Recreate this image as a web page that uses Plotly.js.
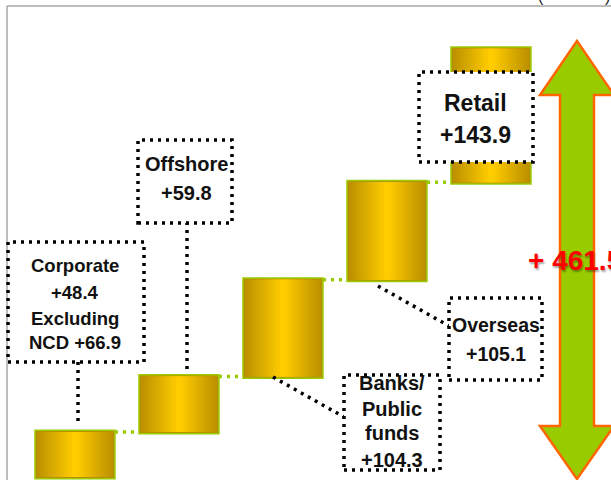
<!DOCTYPE html>
<html>
<head>
<meta charset="utf-8">
<script src="https://cdn.plot.ly/plotly-3.0.1.min.js"></script>
<style>
html,body{margin:0;padding:0;background:#fff;overflow:hidden;}
#chart{width:611px;height:480px;}
</style>
</head>
<body>
<div id="chart"></div>
<script>
// ---- data ----
const categories = ['Corporate', 'Offshore', 'Banks/Public funds', 'Overseas', 'Retail'];
const increments = [48.4, 59.8, 104.3, 105.1, 143.9];
const totalIncrease = 461.5;
const corporateExNCD = 66.9;
const boxLines = {
  corporate: ['Corporate', '+' + increments[0], 'Excluding', 'NCD +' + corporateExNCD],
  offshore: ['Offshore', '+' + increments[1]],
  banks: ['Banks/', 'Public', 'funds', '+' + increments[2]],
  overseas: ['Overseas', '+' + increments[3]],
  retail: ['Retail', '+' + increments[4]]
};

// ---- helpers (page pixel -> paper coords) ----
const W = 611, H = 480;
const px = x => x / W;
const py = y => 1 - y / H;
const FONT = '"Liberation Sans", Arial, sans-serif';

// gradient by nested overlay waterfall traces
const N = 12;
const barWidth = 0.769;
const dark = [186, 143, 0], bright = [255, 204, 0];
const traces = [];
for (let k = 0; k < N; k++) {
  const t = k / (N - 1);
  const c = dark.map((d, i) => Math.round(d + (bright[i] - d) * t));
  const col = 'rgb(' + c.join(',') + ')';
  traces.push({
    type: 'waterfall',
    x: categories,
    y: increments,
    measure: categories.map(() => 'relative'),
    width: barWidth * (1 - k / N),
    textinfo: 'none',
    hoverinfo: 'skip',
    increasing: {marker: {color: col, line: {color: k === 0 ? '#99CC00' : col, width: k === 0 ? 1.5 : 0}}},
    connector: k === 0
      ? {mode: 'between', line: {color: '#99CC00', width: 3.5, dash: '3px,5px'}}
      : {visible: false},
    cliponaxis: true
  });
}

// ---- decorations ----
const shapes = [];
// frame
shapes.push({type: 'line', xref: 'paper', yref: 'paper', x0: px(7), y0: py(6), x1: px(611), y1: py(6), line: {color: '#A6A6A6', width: 1.5}});
shapes.push({type: 'line', xref: 'paper', yref: 'paper', x0: px(7), y0: py(6), x1: px(7), y1: py(480), line: {color: '#A6A6A6', width: 1.5}});

// double arrow
const arrowPts = [[577,41],[614,95],[594,95],[594,426],[614,426],[577,479],[540,426],[560,426],[560,95],[540,95]];
shapes.push({type: 'path', xref: 'paper', yref: 'paper', layer: 'above',
  path: 'M ' + arrowPts.map(p => px(p[0]).toFixed(5) + ',' + py(p[1]).toFixed(5)).join(' L ') + ' Z',
  fillcolor: '#99CC00', line: {color: '#FF6600', width: 2.5}});

const dotLine = {color: '#000', width: 3.5, dash: '3px,5px'};
function box(x0, y0, x1, y1) {
  shapes.push({type: 'rect', xref: 'paper', yref: 'paper', layer: 'above',
    x0: px(x0), y0: py(y1), x1: px(x1), y1: py(y0), fillcolor: '#fff', line: dotLine});
}
function lead(x0, y0, x1, y1) {
  shapes.push({type: 'line', xref: 'paper', yref: 'paper', layer: 'above',
    x0: px(x0), y0: py(y0), x1: px(x1), y1: py(y1), line: dotLine});
}
lead(78, 362, 78, 422);
lead(187, 222, 187, 369);
lead(273, 377, 344, 417);
lead(378, 286, 449, 326);
box(8, 242, 144, 362);
box(138, 140, 232, 223);
box(344, 375, 440, 470);
box(449, 298, 542, 380);
box(419, 72, 533, 162);

const annotations = [];
function lab(text, x, y, size) {
  annotations.push({xref: 'paper', yref: 'paper', x: px(x), y: py(y), xanchor: 'center', yanchor: 'middle',
    text: text, showarrow: false, font: {family: FONT, size: size, color: '#111', weight: 'bold'}});
}
const corpY = [265, 292, 318, 342];
boxLines.corporate.forEach((t, i) => lab(t, 75, corpY[i], 18.5));
const offY = [164, 193];
boxLines.offshore.forEach((t, i) => lab(t, 186, offY[i], 20));
const bankY = [383, 409, 433, 460];
boxLines.banks.forEach((t, i) => lab(t, 392, bankY[i], 20));
const ovY = [325, 354];
boxLines.overseas.forEach((t, i) => lab(t, 496, ovY[i], 19.5));
const retY = [103, 135];
boxLines.retail.forEach((t, i) => lab(t, 475, retY[i], 23));

// total
annotations.push({xref: 'paper', yref: 'paper', x: px(526), y: py(260), xanchor: 'left', yanchor: 'middle',
  text: '+ ' + totalIncrease, showarrow: false,
  font: {family: FONT, size: 28, color: '#FF0000', weight: 'bold', shadow: '1px 2px 2px rgba(0,0,0,0.35)'}});
// cut-off unit parentheses at top (as in the cropped original)
annotations.push({xref: 'paper', yref: 'paper', x: px(541), y: py(7), xanchor: 'center', yanchor: 'bottom',
  text: '(', showarrow: false, font: {family: FONT, size: 16, color: '#222'}});
annotations.push({xref: 'paper', yref: 'paper', x: px(607), y: py(7), xanchor: 'center', yanchor: 'bottom',
  text: ')', showarrow: false, font: {family: FONT, size: 16, color: '#222'}});

const layout = {
  width: W, height: H,
  margin: {l: 0, r: 0, t: 0, b: 0},
  paper_bgcolor: '#fff', plot_bgcolor: '#fff',
  showlegend: false,
  waterfallmode: 'overlay',
  xaxis: {type: 'category', visible: false, range: [-0.721, 5.154], fixedrange: true},
  yaxis: {visible: false, range: [-3.3, 513.9], fixedrange: true},
  shapes: shapes,
  annotations: annotations
};
Plotly.newPlot('chart', traces, layout, {displayModeBar: false, staticPlot: true});
</script>
</body>
</html>
